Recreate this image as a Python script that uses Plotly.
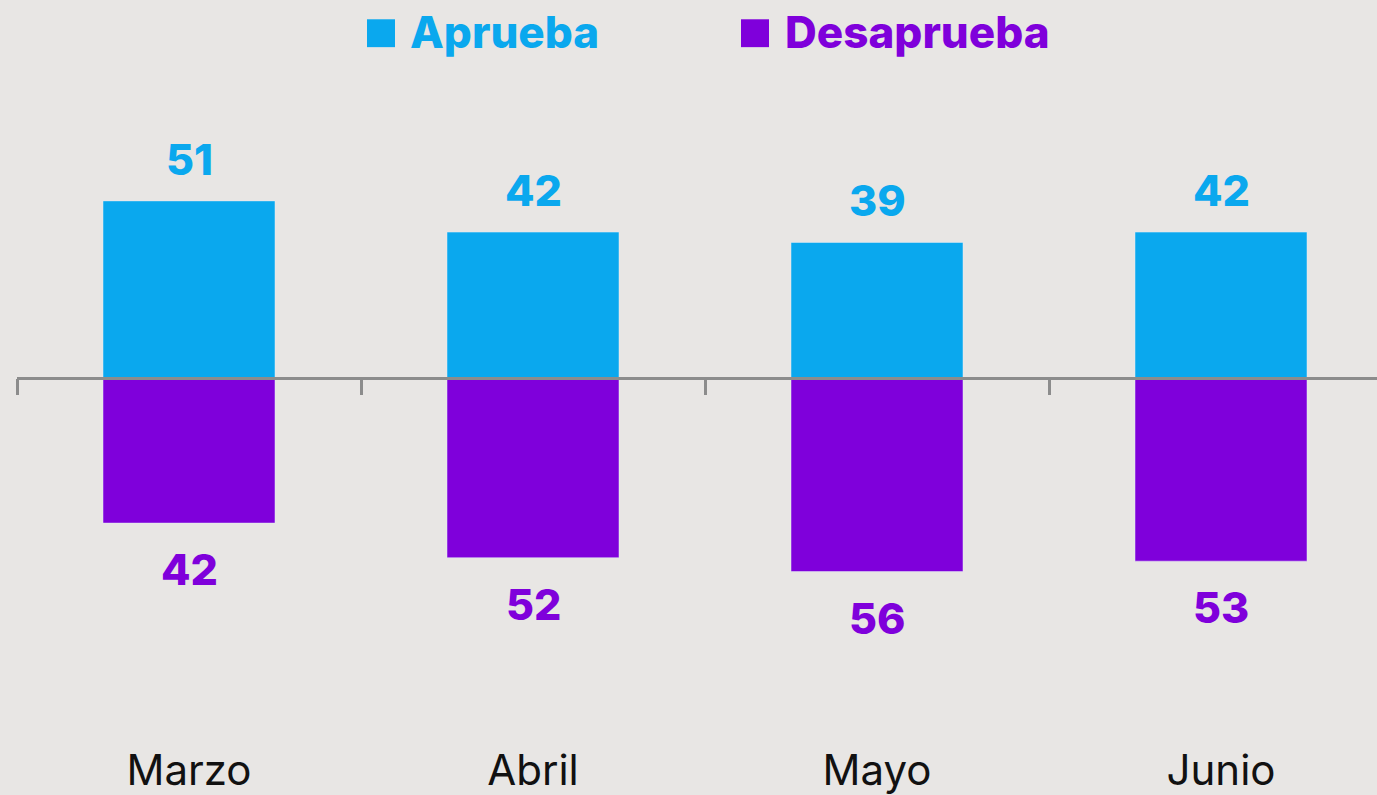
import plotly.graph_objects as go

months = ["Marzo", "Abril", "Mayo", "Junio"]
aprueba = [51, 42, 39, 42]
desaprueba = [42, 52, 56, 53]

BLUE = "#0AA8EE"
PURPLE = "#7F00DB"
BG = "#E8E6E4"
AXIS = "#8C8C8C"
FONT = "Inter, Poppins, sans-serif"

W, H = 1377, 795
L, R, T, B = 17, 0, 80, 50
Y_TOP, Y_BOT = 85.9, -105.2

fig = go.Figure()
fig.add_trace(go.Bar(x=months, y=aprueba, name="Aprueba", marker_color=BLUE,
                     showlegend=False, hoverinfo="x+y"))
fig.add_trace(go.Bar(x=months, y=[-v for v in desaprueba], name="Desaprueba",
                     marker_color=PURPLE, showlegend=False, hoverinfo="x+y"))
# invisible trace carrying the zero-line axis (ticks at category boundaries)
fig.add_trace(go.Scatter(x=months, y=[0] * len(months), xaxis="x2", mode="markers",
                         marker=dict(opacity=0), showlegend=False, hoverinfo="skip"))

zero_pos = (0 - Y_BOT) / (Y_TOP - Y_BOT)

fig.update_layout(
    width=W, height=H,
    paper_bgcolor=BG, plot_bgcolor=BG,
    margin=dict(l=L, r=R, t=T, b=B),
    barmode="relative", bargap=0.5,
    showlegend=False,
    font=dict(family=FONT, color="#111111"),
    xaxis=dict(type="category", categoryorder="array", categoryarray=months,
               range=[-0.5, 3.4535], showline=False, showgrid=False, zeroline=False,
               ticks="", tickfont=dict(size=42, family=FONT, color="#111111")),
    xaxis2=dict(type="category", categoryorder="array", categoryarray=months,
                matches="x", overlaying="x", anchor="free", position=zero_pos,
                side="bottom", showline=True, linecolor=AXIS, linewidth=2.5,
                ticks="outside", tickson="boundaries", ticklen=16, tickwidth=2.5,
                tickcolor=AXIS, showticklabels=False, showgrid=False, zeroline=False,
                layer="above traces"),
    yaxis=dict(range=[Y_BOT, Y_TOP], visible=False, showgrid=False, zeroline=False),
)

# data labels
for m, v in zip(months, aprueba):
    fig.add_annotation(x=m, y=v, text=str(v), showarrow=False, yanchor="middle",
                       yshift=42, font=dict(size=43, color=BLUE, family=FONT, weight=800))
for m, v in zip(months, desaprueba):
    fig.add_annotation(x=m, y=-v, text=str(v), showarrow=False, yanchor="middle",
                       yshift=-46, font=dict(size=43, color=PURPLE, family=FONT, weight=800))

# custom legend at top
pw, ph = W - L - R, H - T - B
def px_x(p):
    return (p - L) / pw
def px_y(p):
    return (H - B - p) / ph

legend_items = [("Aprueba", BLUE, 367, 408), ("Desaprueba", PURPLE, 741, 783)]
for name, col, sq_x, tx_x in legend_items:
    fig.add_shape(type="rect", xref="paper", yref="paper",
                  x0=px_x(sq_x), x1=px_x(sq_x + 28), y0=px_y(47), y1=px_y(19),
                  fillcolor=col, line=dict(width=0))
    fig.add_annotation(xref="paper", yref="paper", x=px_x(tx_x), y=px_y(32),
                       xanchor="left", yanchor="middle", showarrow=False, text=name,
                       font=dict(size=44, color=col, family=FONT, weight=800))

fig.write_html("out.html", config={"displayModeBar": False},
               post_script="document.body.style.margin='0';")
